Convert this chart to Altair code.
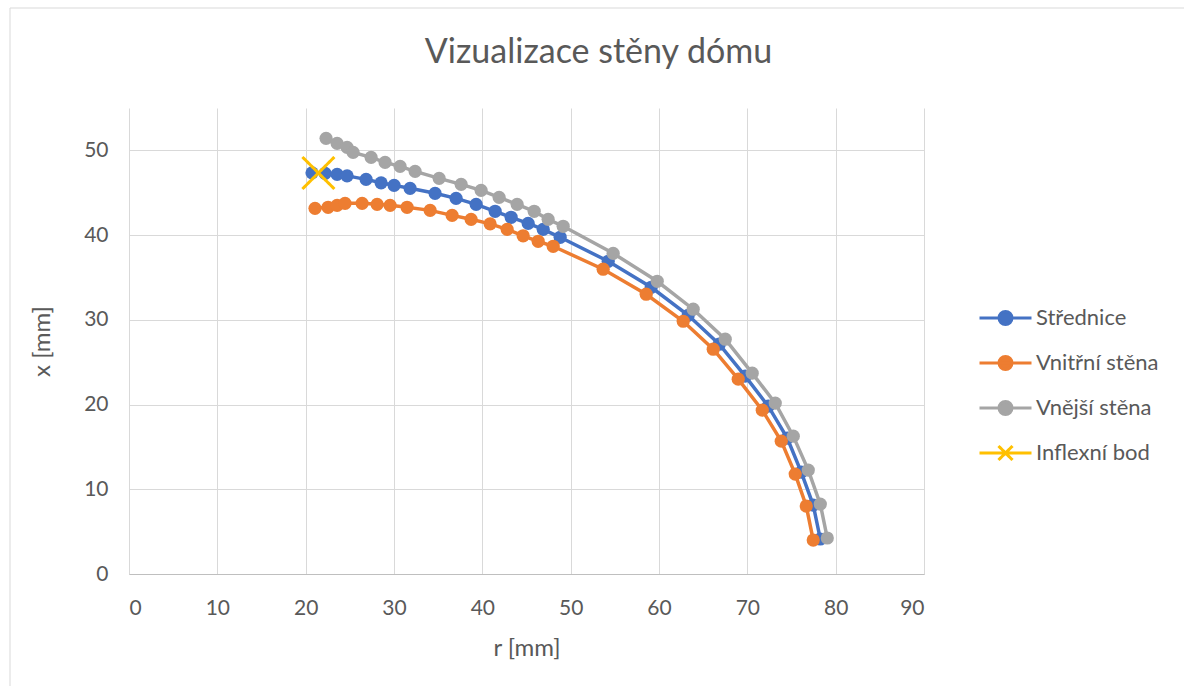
import altair as alt
import pandas as pd

series_names = ["Střednice", "Vnitřní stěna", "Vnější stěna", "Inflexní bod"]
series_colors = ["#4472C4", "#ED7D31", "#A5A5A5", "#FFC000"]

stred_r = [20.72, 22.20, 23.56, 24.69, 26.84, 28.54, 30.01, 31.82, 34.65, 37.03, 39.30, 41.45, 43.26,
           45.19, 46.89, 48.81, 54.25, 59.12, 63.31, 66.82, 69.76, 72.37, 74.52, 76.10, 77.46, 78.26]
stred_x = [47.35, 47.29, 47.17, 46.99, 46.58, 46.17, 45.87, 45.52, 44.93, 44.34, 43.63, 42.81, 42.10,
           41.39, 40.68, 39.74, 36.91, 33.84, 30.54, 27.12, 23.35, 19.81, 16.04, 12.03, 8.14, 4.13]

vnitrni_r = [21.06, 22.54, 23.56, 24.46, 26.39, 28.09, 29.56, 31.48, 34.09, 36.58, 38.73, 40.88, 42.81,
             44.62, 46.32, 48.02, 53.68, 58.55, 62.74, 66.14, 68.97, 71.69, 73.84, 75.42, 76.67, 77.46]
vnitrni_x = [43.16, 43.28, 43.51, 43.75, 43.75, 43.63, 43.51, 43.28, 42.92, 42.33, 41.86, 41.33, 40.68,
             39.92, 39.27, 38.68, 35.97, 33.02, 29.83, 26.53, 23.00, 19.34, 15.68, 11.79, 8.02, 4.01]

vnejsi_r = [22.31, 23.56, 24.69, 25.37, 27.41, 28.99, 30.69, 32.39, 35.11, 37.60, 39.86, 41.90, 43.94,
            45.87, 47.45, 49.15, 54.81, 59.80, 63.87, 67.50, 70.55, 73.16, 75.20, 76.90, 78.26, 79.05]
vnejsi_x = [51.42, 50.83, 50.35, 49.76, 49.17, 48.58, 48.11, 47.52, 46.70, 45.99, 45.28, 44.46, 43.63,
            42.81, 41.86, 41.04, 37.85, 34.55, 31.25, 27.71, 23.70, 20.17, 16.27, 12.26, 8.25, 4.25]

infl_r = [21.44]
infl_x = [47.33]

x_ticks = [0, 10, 20, 30, 40, 50, 60, 70, 80, 90]
y_ticks = [0, 10, 20, 30, 40, 50]

rows = []
for name, rs, xs in [(series_names[0], stred_r, stred_x),
                     (series_names[1], vnitrni_r, vnitrni_x),
                     (series_names[2], vnejsi_r, vnejsi_x),
                     (series_names[3], infl_r, infl_x)]:
    for i, (r, x) in enumerate(zip(rs, xs)):
        rows.append({"series": name, "r": r, "x": x, "idx": i})
df = pd.DataFrame(rows)

FONT = "Lato"
GREY_TXT = "#595959"

W, H = 795, 466
PAD_L, PAD_T = 129, 108

CIRCLE_PATH = "M-1,0H1M0.25,0A0.25,0.25,0,1,1,-0.25,0A0.25,0.25,0,1,1,0.25,0Z"
X_LEG_PATH = "M-1,0H1M-0.27,-0.27L0.27,0.27M-0.27,0.27L0.27,-0.27"
X_PATH = "M-1,-1L1,1M-1,1L1,-1"

leg_common = dict(
    title=None, orient="none", legendX=849,
    symbolSize=2704, symbolStrokeWidth=3,
    labelFont=FONT, labelFontSize=22, labelColor=GREY_TXT, labelOffset=3,
    clipHeight=40, rowPadding=5, padding=0,
)

color = alt.Color("series:N", scale=alt.Scale(domain=series_names[:3], range=series_colors[:3]),
                  legend=alt.Legend(legendY=190, symbolType=CIRCLE_PATH, symbolOpacity=1, **leg_common))
infl_leg = alt.StrokeDash("series:N", scale=alt.Scale(domain=[series_names[3]], range=[[1, 0]]),
                          legend=alt.Legend(legendY=190 + 3 * 45, symbolType=X_LEG_PATH,
                                            symbolStrokeColor=series_colors[3],
                                            symbolFillColor=series_colors[3], **leg_common))

xenc = alt.X("r:Q", scale=alt.Scale(domain=[0, 90], nice=False),
             axis=alt.Axis(values=x_ticks, title="r [mm]", titleX=W / 2, titleY=74,
                           titleBaseline="middle", labelPadding=23))
yenc = alt.Y("x:Q", scale=alt.Scale(domain=[0, 55], nice=False),
             axis=alt.Axis(values=y_ticks, title="x [mm]", titleX=-87, titleY=H / 2,
                           titleBaseline="middle", titleAngle=-90, titleAlign="center",
                           labelPadding=21, domain=False))

base = alt.Chart(df)

layers = []
border = alt.Chart(pd.DataFrame({"a": [0]})).mark_rect(
    fill="white", fillOpacity=0, stroke="#d9d9d9", strokeWidth=1
).encode(x=alt.value(10 - PAD_L), x2=alt.value(1200 - PAD_L),
         y=alt.value(8 - PAD_T), y2=alt.value(700 - PAD_T))
layers.append(border)

for name in series_names[:3]:
    sub = base.transform_filter(alt.datum.series == name)
    layers.append(sub.mark_line(strokeWidth=3.5).encode(x=xenc, y=yenc, color=color, order="idx:Q"))
    layers.append(sub.mark_circle(size=175, opacity=1).encode(x=xenc, y=yenc, color=color))

layers.append(
    base.transform_filter(alt.datum.series == series_names[3])
    .mark_point(shape=X_PATH, size=1024, strokeWidth=3, filled=False, opacity=1, color=series_colors[3])
    .encode(x=xenc, y=yenc, strokeDash=infl_leg)
)

chart = alt.layer(*layers).properties(
    width=W, height=H,
    background="white",
    title=alt.TitleParams("Vizualizace stěny dómu", font=FONT, fontSize=34, fontWeight="normal",
                          color=GREY_TXT, anchor="middle", frame="group", dx=72, offset=-89.5,
                          baseline="alphabetic"),
    autosize=alt.AutoSizeParams(type="none"),
    padding={"left": PAD_L, "top": PAD_T, "right": 1184 - PAD_L - W, "bottom": 686 - PAD_T - H},
).configure_view(stroke=None).configure_axis(
    labelFont=FONT, labelFontSize=21, labelColor=GREY_TXT,
    titleFont=FONT, titleFontSize=24, titleColor=GREY_TXT, titleFontWeight="normal",
    gridColor="#d9d9d9", gridWidth=1, ticks=False, domainColor="#bfbfbf", domainWidth=1,
)

chart.save("out.html", embed_options={"renderer": "svg", "actions": False})
